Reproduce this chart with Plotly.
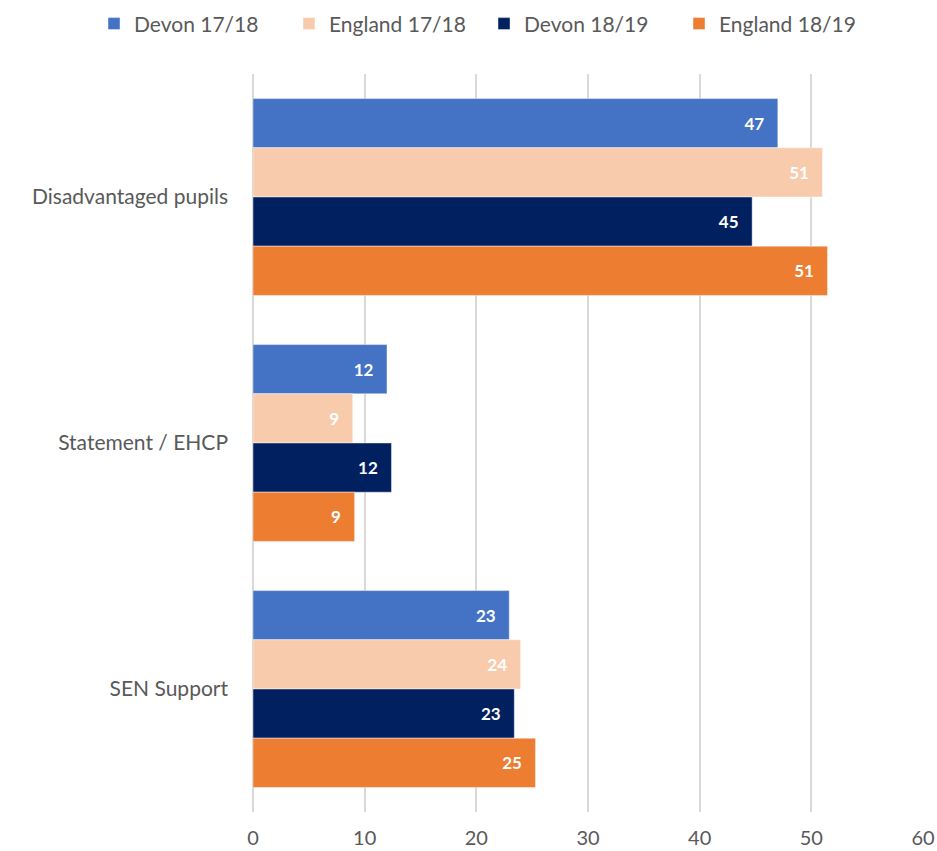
import plotly.graph_objects as go

categories = ["Disadvantaged pupils", "Statement / EHCP", "SEN Support"]
series_names = ["Devon 17/18", "England 17/18", "Devon 18/19", "England 18/19"]
devon_1718 = [47.0, 12.0, 22.95]
england_1718 = [51.0, 8.93, 23.97]
devon_1819 = [44.7, 12.4, 23.4]
england_1819 = [51.45, 9.1, 25.3]
x_ticks = [0, 10, 20, 30, 40, 50, 60]

series_values = [devon_1718, england_1718, devon_1819, england_1819]
colors = ["#4472C4", "#F8CBAD", "#002060", "#ED7D31"]

FONT = "Lato, Open Sans, sans-serif"
fig = go.Figure()
for name, vals, col in zip(series_names, series_values, colors):
    fig.add_trace(go.Bar(
        y=categories, x=vals, name=name, orientation="h",
        marker=dict(color=col, line=dict(color="rgba(255,255,255,0.55)", width=0.8)),
        text=[f"{round(v):d}\u2002\u2009" for v in vals], textposition="inside",
        insidetextanchor="end",
        textfont=dict(color="white", size=17, family=FONT, weight="bold"),
        hoverinfo="skip",
    ))

fig.update_layout(
    width=937, height=851,
    margin=dict(l=253, r=14, t=74, b=39, autoexpand=False),
    barmode="group", bargap=0.2, bargroupgap=0,
    plot_bgcolor="white", paper_bgcolor="white",
    font=dict(family=FONT, color="#595959", size=21),
    uniformtext=dict(minsize=8, mode="show"),
    legend=dict(orientation="h", xref="paper", yref="paper",
                x=-0.2373, xanchor="left", y=1.0678, yanchor="middle",
                font=dict(size=21, color="#595959"), traceorder="normal",
                itemwidth=30, entrywidth=150, entrywidthmode="pixels"),
    showlegend=True,
)
fig.update_xaxes(range=[0, 60], tickvals=x_ticks, showgrid=True,
                 gridcolor="#D9D9D9", gridwidth=1.5, zeroline=True,
                 zerolinecolor="#D9D9D9", zerolinewidth=1.5,
                 tickfont=dict(size=20, color="#595959"), ticklabelstandoff=12,
                 showline=False, automargin=False, fixedrange=True)
fig.update_yaxes(autorange="reversed", showgrid=False, showline=False,
                 automargin=False,
                 tickfont=dict(size=21, color="#595959"), ticklabelstandoff=24)

fig.write_html("out.html", config={"displayModeBar": False},
               post_script="document.body.style.margin='0';document.body.style.overflow='hidden';")
